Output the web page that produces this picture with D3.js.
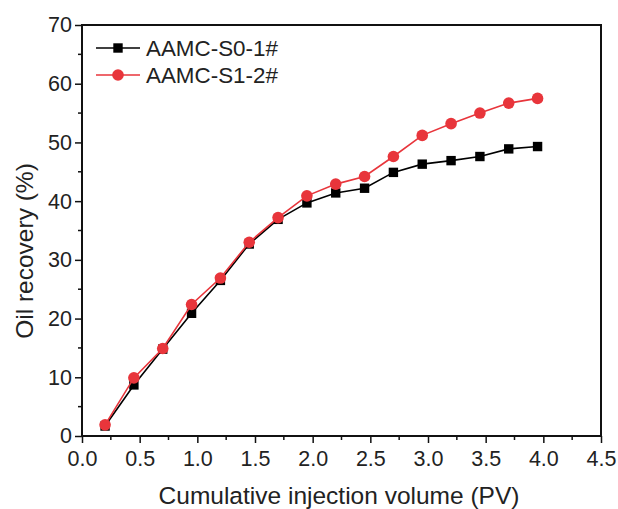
<!DOCTYPE html>
<html>
<head>
<meta charset="utf-8">
<script src="https://cdn.jsdelivr.net/npm/d3@7"></script>
<style>
  body { margin: 0; background: #fff; }
  text { font-family: "Liberation Sans", Arial, sans-serif; fill: #222; }
</style>
</head>
<body>
<svg id="chart" width="618" height="509"></svg>
<script>
let pv = [0.2, 0.45, 0.7, 0.95, 1.2, 1.45, 1.7, 1.95, 2.2, 2.45, 2.7, 2.95, 3.2, 3.45, 3.7, 3.95];
let s0 = [1.7, 8.7, 14.8, 20.9, 26.5, 32.7, 36.9, 39.7, 41.4, 42.2, 44.9, 46.3, 46.9, 47.6, 48.9, 49.3];
let s1 = [1.9, 9.9, 14.9, 22.4, 26.9, 33.0, 37.2, 40.9, 42.9, 44.2, 47.6, 51.2, 53.2, 55.0, 56.7, 57.5];
let seriesNames = ["AAMC-S0-1#", "AAMC-S1-2#"];
let xTicks = [0, 0.5, 1, 1.5, 2, 2.5, 3, 3.5, 4, 4.5];
let yTicks = [0, 10, 20, 30, 40, 50, 60, 70];

let margin = {left: 82, top: 25, right: 17, bottom: 73};
let width = 618, height = 509;

let svg = d3.select("#chart");
let x = d3.scaleLinear().domain([0, 4.5]).range([margin.left, width - margin.right]);
let y = d3.scaleLinear().domain([0, 70]).range([height - margin.bottom, margin.top]);

let series = [
    {name: seriesNames[0], values: s0, color: "#000", shape: "square"},
    {name: seriesNames[1], values: s1, color: "#e8353b", shape: "circle"}
];

// frame
svg.append("rect")
    .attr("x", x(0)).attr("y", y(70))
    .attr("width", x(4.5) - x(0)).attr("height", y(0) - y(70))
    .attr("fill", "none").attr("stroke", "#111").attr("stroke-width", 2);

// minor ticks
let xMinor = d3.range(0.25, 4.5, 0.5);
let yMinor = d3.range(5, 70, 10);
svg.append("g").selectAll("line").data(xMinor).enter().append("line")
    .attr("x1", d => x(d)).attr("x2", d => x(d))
    .attr("y1", y(0)).attr("y2", y(0) + 4)
    .attr("stroke", "#111").attr("stroke-width", 1.5);
svg.append("g").selectAll("line").data(yMinor).enter().append("line")
    .attr("y1", d => y(d)).attr("y2", d => y(d))
    .attr("x1", x(0)).attr("x2", x(0) - 4)
    .attr("stroke", "#111").attr("stroke-width", 1.5);

let xAxis = svg.append("g")
    .attr("transform", "translate(0," + y(0) + ")")
    .call(d3.axisBottom(x).tickValues(xTicks).tickFormat(d3.format(".1f")).tickSize(7).tickPadding(8));
let yAxis = svg.append("g")
    .attr("transform", "translate(" + x(0) + ",0)")
    .call(d3.axisLeft(y).tickValues(yTicks).tickSize(7).tickPadding(3));
[xAxis, yAxis].forEach(g => {
    g.select(".domain").remove();
    g.selectAll(".tick line").attr("stroke", "#111").attr("stroke-width", 1.5);
    g.selectAll(".tick text").attr("font-size", 21.5).attr("fill", "#222")
        .style("font-family", "'Liberation Sans', Arial, sans-serif");
});

svg.append("text")
    .attr("x", 339).attr("y", 504)
    .attr("text-anchor", "middle").attr("font-size", 24.5)
    .text("Cumulative injection volume (PV)");
svg.append("text")
    .attr("transform", "translate(33,251) rotate(-90)")
    .attr("text-anchor", "middle").attr("font-size", 24.5)
    .text("Oil recovery (%)");

let line = d3.line().x((d, i) => x(pv[i])).y(d => y(d));

function marker(g, s, cx, cy) {
    if (s.shape === "square") {
        g.append("rect").attr("x", cx - 4.7).attr("y", cy - 4.7)
            .attr("width", 9.4).attr("height", 9.4).attr("fill", s.color);
    } else {
        g.append("circle").attr("cx", cx).attr("cy", cy).attr("r", 5.8).attr("fill", s.color);
    }
}

series.forEach(s => {
    let g = svg.append("g");
    g.append("path").datum(s.values)
        .attr("d", line).attr("fill", "none")
        .attr("stroke", s.color).attr("stroke-width", 1.6);
    s.values.forEach((v, i) => marker(g, s, x(pv[i]), y(v)));
});

// legend
series.forEach((s, i) => {
    let ly = 48 + i * 27;
    let g = svg.append("g");
    g.append("line").attr("x1", 96).attr("x2", 140).attr("y1", ly).attr("y2", ly)
        .attr("stroke", s.color).attr("stroke-width", 1.6);
    marker(g, s, 118, ly);
    g.append("text").attr("x", 146).attr("y", ly + 8)
        .attr("font-size", 22.4).text(s.name);
});
</script>
</body>
</html>
